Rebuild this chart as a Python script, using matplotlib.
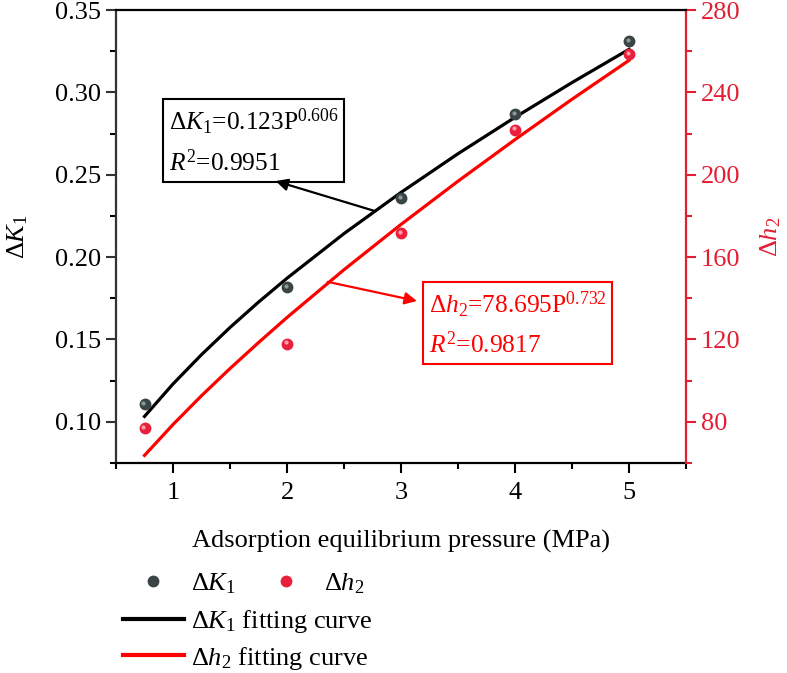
import matplotlib
matplotlib.use('Agg')
import matplotlib.pyplot as plt
from matplotlib.lines import Line2D
from matplotlib.ticker import MultipleLocator
from matplotlib.transforms import offset_copy

plt.rcParams['font.family'] = ['Liberation Serif', 'DejaVu Serif']
plt.rcParams['mathtext.fontset'] = 'custom'
plt.rcParams['mathtext.rm'] = 'Liberation Serif'
plt.rcParams['mathtext.it'] = 'Liberation Serif:italic'
plt.rcParams['font.size'] = 19

# measured points
pressure = [0.75, 2, 3, 4, 5]
dk1 = [0.111, 0.182, 0.236, 0.287, 0.331]
dh2 = [77.1, 118.0, 171.8, 222.0, 258.6]

# fitting curves
fit_p = [0.75, 1, 1.25, 1.5, 1.75, 2, 2.5, 3, 3.5, 4, 4.5, 5]
fit_k1 = [0.1033, 0.123, 0.1408, 0.1573, 0.1727, 0.1872, 0.2143, 0.2393,
          0.2628, 0.2849, 0.3060, 0.3262]
fit_h2 = [63.7, 78.7, 92.7, 105.9, 118.5, 130.7, 153.9, 175.9,
          196.9, 217.1, 236.7, 255.6]

xticks = [1, 2, 3, 4, 5]
k1_ticks = [0.10, 0.15, 0.20, 0.25, 0.30, 0.35]
h2_ticks = [80, 120, 160, 200, 240, 280]

red = '#ff0000'
axred = '#e41e32'
ball_k = '#3a4444'
ball_h = '#e8203c'

fig = plt.figure(figsize=(7.87, 6.73), dpi=100)
ax = fig.add_axes([0.1474, 0.312, 0.7243, 0.673])
ax2 = ax.twinx()

ax.plot(fit_p, fit_k1, color='black', lw=2.3, zorder=2)
ax2.plot(fit_p, fit_h2, color=red, lw=2.3, zorder=2)

# balls with a little highlight
hl = offset_copy(ax.transData, fig=fig, x=-1.2, y=1.2, units='dots')
hl2 = offset_copy(ax2.transData, fig=fig, x=-1.2, y=1.2, units='dots')
ax.plot(pressure, dk1, 'o', ms=7.5, color=ball_k, mec=ball_k, zorder=3)
ax.plot(pressure, dk1, 'o', ms=3, color='#8a9a9a', mew=0, transform=hl, zorder=4)
ax2.plot(pressure, dh2, 'o', ms=7.5, color=ball_h, mec=ball_h, zorder=3)
ax2.plot(pressure, dh2, 'o', ms=3, color='#ff9aa8', mew=0, transform=hl2, zorder=4)

ax.set_xlim(0.5, 5.5)
ax.set_ylim(0.075, 0.35)
ax2.set_ylim(60, 280)
ax.set_xticks(xticks)
ax.set_yticks(k1_ticks)
ax.set_yticklabels(['%.2f' % v for v in k1_ticks])
ax2.set_yticks(h2_ticks)
ax.xaxis.set_minor_locator(MultipleLocator(0.5))
ax.yaxis.set_minor_locator(MultipleLocator(0.025))
ax2.yaxis.set_minor_locator(MultipleLocator(20))

for s in ['top', 'right']:
    ax.spines[s].set_visible(False)
ax.spines['left'].set_color('#333333')
ax.spines['left'].set_linewidth(1.6)
ax.spines['bottom'].set_linewidth(1.6)
ax2.spines['left'].set_visible(False)
ax2.spines['bottom'].set_visible(False)
ax2.spines['top'].set_linewidth(1.6)
ax2.spines['right'].set_color(axred)
ax2.spines['right'].set_linewidth(1.6)

ax.tick_params(axis='both', which='major', length=7, width=1.5, direction='out')
ax.tick_params(axis='both', which='minor', length=4, width=1.5, direction='out')
ax.tick_params(axis='x', pad=7)
ax.tick_params(axis='y', colors='#333333', labelcolor='black')
ax2.tick_params(axis='y', which='major', length=7, width=1.5, colors=axred)
ax2.tick_params(axis='y', which='minor', length=4, width=1.5, colors=axred)

ax.set_xlabel('Adsorption equilibrium pressure (MPa)', labelpad=18)
ax.set_ylabel(r'$\Delta K_1$', labelpad=18)
ax2.set_ylabel(r'$\Delta h_2$', color=axred, labelpad=13)

# fit annotations
ax.text(0.0930, 0.787, r'$\Delta K_1$=0.123P$^{0.606}$' + '\n' + r'$R^2$=0.9951',
        transform=ax.transAxes, ha='left', va='top', linespacing=1.6, fontsize=18.3,
        bbox=dict(boxstyle='square,pad=0.22', fc='white', ec='black', lw=1.5))
ax.annotate('', xy=(1.90, 0.2462), xytext=(2.77, 0.228),
            arrowprops=dict(arrowstyle='-|>', color='black', lw=1.6,
                            mutation_scale=18, shrinkA=0, shrinkB=0))
ax2.text(0.549, 0.383, r'$\Delta h_2$=78.695P$^{0.732}$' + '\n' + r'$R^2$=0.9817',
         transform=ax2.transAxes, ha='left', va='top', color=red, linespacing=1.55,
         fontsize=18.3,
         bbox=dict(boxstyle='square,pad=0.22', fc='white', ec=red, lw=1.5))
ax2.annotate('', xy=(3.14, 138.7), xytext=(2.357, 148),
             arrowprops=dict(arrowstyle='-|>', color=red, lw=1.6,
                             mutation_scale=18, shrinkA=0, shrinkB=0))

# legend
hk = Line2D([], [], ls='none', marker='o', ms=7.5, color=ball_k, label=r'$\Delta K_1$')
hh = Line2D([], [], ls='none', marker='o', ms=7.5, color=ball_h, label=r'$\Delta h_2$')
lk = Line2D([], [], color='black', lw=3, label=r'$\Delta K_1$ fitting curve')
lh = Line2D([], [], color=red, lw=3, label=r'$\Delta h_2$ fitting curve')

fig.legend(handles=[hk, hh], loc='center left', bbox_to_anchor=(123 / 787, 1 - 584 / 673),
           ncol=2, frameon=False, handlelength=2.3, handletextpad=0.28,
           columnspacing=0.75, borderpad=0, borderaxespad=0)
fig.legend(handles=[lk, lh], loc='upper left', bbox_to_anchor=(123 / 787, 1 - 608 / 673),
           frameon=False, handlelength=2.3, handletextpad=0.28, labelspacing=0.36,
           borderpad=0, borderaxespad=0)

plt.savefig('out.png', dpi=100)
